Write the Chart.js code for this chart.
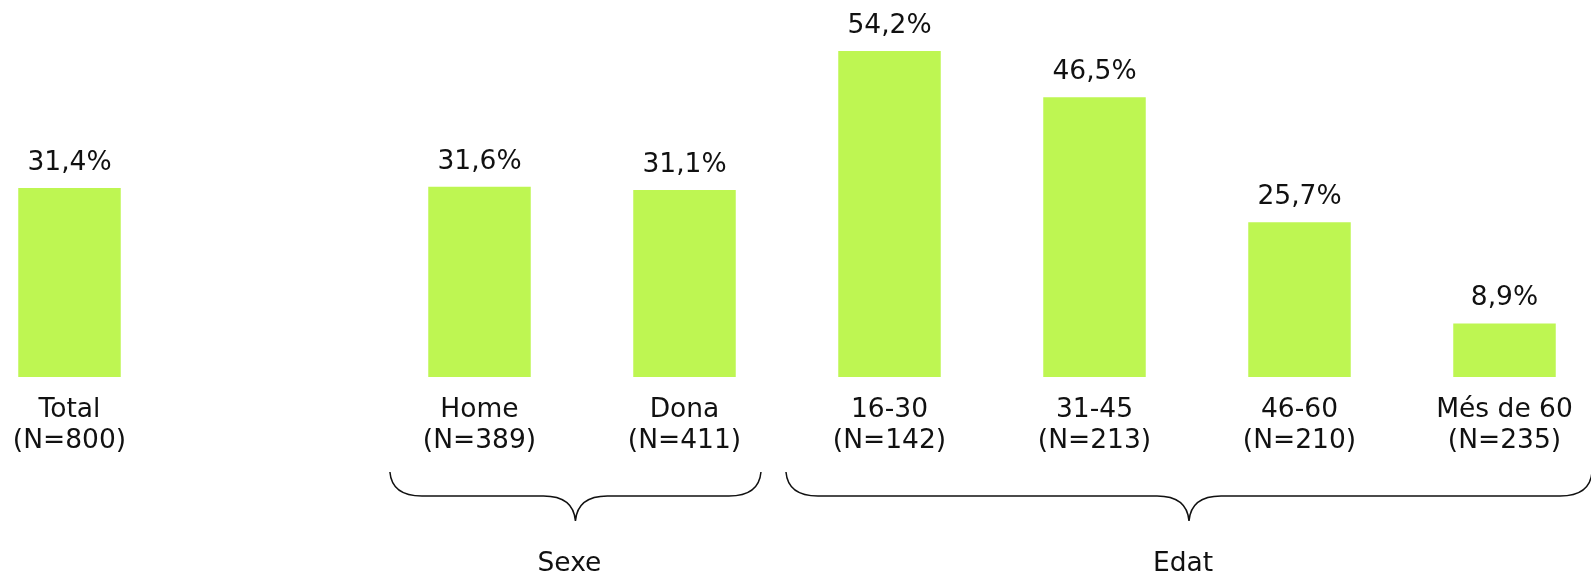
<!DOCTYPE html>
<html>
<head>
<meta charset="utf-8">
<script src="https://cdn.jsdelivr.net/npm/chart.js@4/dist/chart.umd.min.js"></script>
<style>
  html, body { margin: 0; padding: 0; background: #fff; overflow: hidden; }
  #wrap { position: absolute; left: -33px; top: 0; width: 1640px; height: 577px; }
</style>
</head>
<body>
<div id="wrap"><canvas id="graphCanvas"></canvas></div>
<script>
// Categories (the empty slot separates Total from the groups)
const categories = [
    ['Total', '(N=800)'],
    '',
    ['Home', '(N=389)'],
    ['Dona', '(N=411)'],
    ['16-30', '(N=142)'],
    ['31-45', '(N=213)'],
    ['46-60', '(N=210)'],
    ['Més de 60', '(N=235)'],
];
const values = [31.4, null, 31.6, 31.1, 54.2, 46.5, 25.7, 8.9];

// Group braces under the labels
const groupNames = ['Sexe', 'Edat'];
const groupFirst = [2, 4];
const groupLast = [3, 7];

const FONT = '"DejaVu Sans", sans-serif';
const TEXT = '#111';

// Draw the value labels above each bar
const valueLabels = {
    id: 'valueLabels',
    afterDatasetsDraw(chart) {
        const ctx = chart.ctx;
        const meta = chart.getDatasetMeta(0);
        ctx.save();
        ctx.font = '26.5px ' + FONT;
        ctx.fillStyle = TEXT;
        ctx.textAlign = 'center';
        ctx.textBaseline = 'alphabetic';
        meta.data.forEach((bar, i) => {
            const v = values[i];
            if (v === null) return;
            ctx.fillText(v.toFixed(1).replace('.', ',') + '%', bar.x, bar.y - 18);
        });
        ctx.restore();
    }
};

// Curly braces with group names under the category labels
const braceInsetL = [0.437, 0.505];
const braceInsetR = [0.373, 0.427];
const groupBraces = {
    id: 'groupBraces',
    afterDraw(chart) {
        const ctx = chart.ctx;
        const x = chart.scales.x;
        const slot = x.width / categories.length;
        const top = 472, mid = 496, tip = 521;
        ctx.save();
        ctx.strokeStyle = TEXT;
        ctx.lineWidth = 1.5;
        groupNames.forEach((name, g) => {
            const left = x.getPixelForValue(groupFirst[g]) - braceInsetL[g] * slot;
            const right = x.getPixelForValue(groupLast[g]) + braceInsetR[g] * slot;
            const c = (left + right) / 2;
            ctx.beginPath();
            ctx.moveTo(left, top);
            ctx.quadraticCurveTo(left + 2, mid, left + 32, mid);
            ctx.lineTo(c - 32, mid);
            ctx.quadraticCurveTo(c - 2, mid, c, tip);
            ctx.quadraticCurveTo(c + 2, mid, c + 32, mid);
            ctx.lineTo(right - 32, mid);
            ctx.quadraticCurveTo(right - 2, mid, right, top);
            ctx.stroke();

            ctx.font = '26.5px ' + FONT;
            ctx.fillStyle = TEXT;
            ctx.textAlign = 'center';
            ctx.textBaseline = 'alphabetic';
            ctx.fillText(name, c - 6, 571);
        });
        ctx.restore();
    }
};

const ctx = document.getElementById('graphCanvas').getContext('2d');

const data = {
    labels: categories,
    datasets: [{
        data: values,
        backgroundColor: '#bef652',
        borderWidth: 0,
        barPercentage: 0.5,
        categoryPercentage: 1.0,
    }],
};

const barChart = new Chart(ctx, {
    type: 'bar',
    data: data,
    options: {
        responsive: true,
        maintainAspectRatio: false,
        animation: false,
        layout: { padding: { top: 16, left: 0, right: 0, bottom: 0 } },
        plugins: {
            legend: { display: false },
            tooltip: { enabled: false },
        },
        scales: {
            x: {
                grid: { display: false, drawTicks: false },
                border: { display: false },
                ticks: {
                    color: TEXT,
                    font: { family: FONT, size: 26.5, lineHeight: 1.17 },
                    padding: 18,
                    maxRotation: 0,
                    autoSkip: false,
                },
                afterFit(axis) { axis.height = 200; },
            },
            y: {
                display: false,
                min: 0,
                max: 60,
            },
        },
    },
    plugins: [valueLabels, groupBraces],
});
</script>
</body>
</html>
